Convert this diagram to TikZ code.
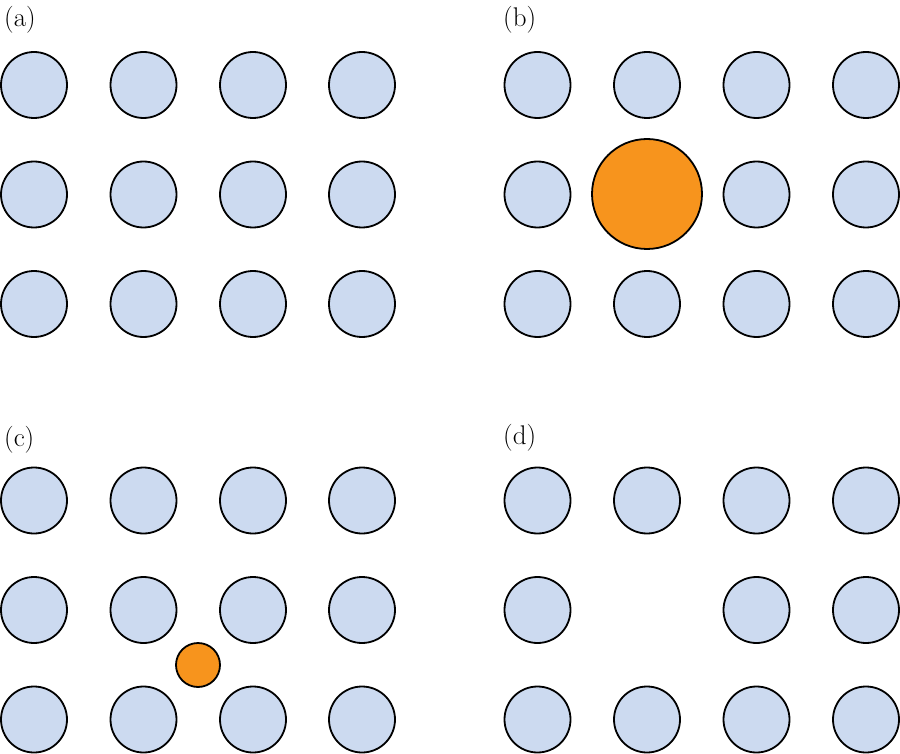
\documentclass[tikz,border=0pt]{standalone}
\usepackage{fontspec}
\definecolor{atomblue}{HTML}{CCDAF0}
\definecolor{defectorange}{HTML}{F7941D}
\tikzset{
  atom/.style={circle, draw=black, line width=1.8pt, fill=atomblue, minimum size=66pt, inner sep=0pt},
  bigdefect/.style={circle, draw=black, line width=1.8pt, fill=defectorange, minimum size=110pt, inner sep=0pt},
  smalldefect/.style={circle, draw=black, line width=1.8pt, fill=defectorange, minimum size=44pt, inner sep=0pt},
  panellabel/.style={anchor=base west, inner sep=0pt, font=\fontsize{27}{32}\selectfont}
}
\begin{document}
\begin{tikzpicture}[x={(1pt,0)}, y={(0,-1pt)}]
\useasboundingbox (0,0) rectangle (900,754);
% panel labels
\node[panellabel] (la) at (4,27) {(a)};
\node[panellabel] (lb) at (503,27) {(b)};
\node[panellabel] (lc) at (4,446) {(c)};
\node[panellabel] (ld) at (503,444) {(d)};
% panel (a)
\foreach \c/\x in {1/34,2/143.5,3/253,4/362}
  \foreach \r/\y in {1/85,2/194.5,3/304}
    \node[atom] (a-\r-\c) at (\x,\y) {};
% panel (b)
\foreach \c/\x in {1/537.5,2/647,3/756.5,4/866}
  \foreach \r/\y in {1/85,2/194.5,3/304}{
    \ifnum\r\c=22\relax\else
    \node[atom] (b-\r-\c) at (\x,\y) {};
    \fi}
\node[bigdefect] (b-defect) at (647,194) {};
% panel (c)
\foreach \c/\x in {1/34,2/143.5,3/253,4/362}
  \foreach \r/\y in {1/500.5,2/610,3/719.5}
    \node[atom] (c-\r-\c) at (\x,\y) {};
\node[smalldefect] (c-defect) at (198,665) {};
% panel (d)
\foreach \c/\x in {1/537.5,2/647,3/756.5,4/866}
  \foreach \r/\y in {1/500.5,2/610,3/719.5}{
    \ifnum\r\c=22\relax\else
    \node[atom] (d-\r-\c) at (\x,\y) {};
    \fi}
\end{tikzpicture}
\end{document}
